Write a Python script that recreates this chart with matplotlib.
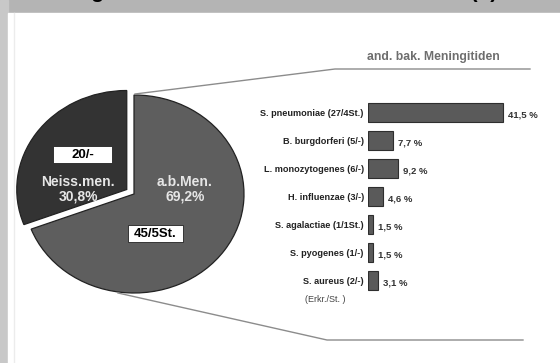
import matplotlib
matplotlib.use('Agg')
import matplotlib.pyplot as plt
from matplotlib.patches import Rectangle

plt.rcParams['font.family'] = ['Liberation Sans', 'DejaVu Sans']

W, H = 560, 363

# pie: all bacterial meningitis cases
pie_values = [45, 20]
pie_names = ['a.b.Men.', 'Neiss.men.']
pie_pct = ['69,2%', '30,8%']
pie_counts = ['45/5St.', '20/-']

# bars: other bacterial meningitis
bar_labels = ['S. pneumoniae (27/4St.)', 'B. burgdorferi (5/-)', 'L. monozytogenes (6/-)',
              'H. influenzae (3/-)', 'S. agalactiae (1/1St.)', 'S. pyogenes (1/-)',
              'S. aureus (2/-)']
bar_values = [41.5, 7.7, 9.2, 4.6, 1.5, 1.5, 3.1]
bar_texts = ['41,5 %', '7,7 %', '9,2 %', '4,6 %', '1,5 %', '1,5 %', '3,1 %']


def box(x0, y0, x1, y1):
    # pixel box (image coords, y down) -> figure fraction rect
    return [x0 / W, 1 - y1 / H, (x1 - x0) / W, (y1 - y0) / H]


fig = plt.figure(figsize=(5.6, 3.63), dpi=100)
fig.patch.set_facecolor('#b4b4b4')

# background frame
bg = fig.add_axes([0, 0, 1, 1])
bg.set_xlim(0, W)
bg.set_ylim(H, 0)
bg.axis('off')
bg.add_patch(Rectangle((0, 0), 8, H, color='#c8c8c8'))
bg.add_patch(Rectangle((8, 13), W - 8, H - 13, color='white'))
bg.plot([14, 14], [13, H], color='#ececec', lw=1)

# title, cut off at the top (only descenders visible, as in the slide)
fig.text(497 / W, 1 + 1.5 / H, 'Meningitiden bei Kindern und Erwachsenen (n)',
         ha='right', va='baseline', fontsize=15, fontweight='bold', color='black')

# pie
pax = fig.add_axes(box(24, 95, 244, 293))
wedges, _ = pax.pie(pie_values, startangle=90, counterclock=False,
                    colors=['#5e5e5e', '#333333'], explode=[0, 0.08],
                    wedgeprops=dict(edgecolor='#222222', linewidth=0.9))
pax.set_xlim(-1, 1)
pax.set_ylim(-1, 1)
pax.set_aspect('auto')
pax.axis('off')
for w in wedges:
    w.set_clip_on(False)

# bars
bax = fig.add_axes(box(368, 98.5, 518, 294.5))
ypos = list(range(len(bar_values)))
bax.barh(ypos, bar_values, height=0.68, color='#5a5a5a', edgecolor='#2e2e2e', linewidth=0.8)
bax.set_xlim(0, 150 / 3.253)
bax.set_ylim(len(bar_values) - 0.5, -0.5)
bax.set_yticks(ypos)
bax.set_yticklabels(bar_labels, fontsize=6.6, fontweight='bold', color='#222222')
bax.tick_params(axis='y', length=0, pad=3)
bax.set_xticks([])
for s in bax.spines.values():
    s.set_visible(False)
bax.patch.set_alpha(0)
for y, v, t in zip(ypos, bar_values, bar_texts):
    bax.text(v + 1.6, y + 0.1, t, va='center', ha='left', fontsize=6.8,
             fontweight='bold', color='#333333')

# overlay: connector lines and labels
ov = fig.add_axes([0, 0, 1, 1])
ov.set_xlim(0, W)
ov.set_ylim(H, 0)
ov.axis('off')
ov.patch.set_alpha(0)
ov.plot([135, 335, 530], [94, 69, 69], color='#8c8c8c', lw=1)
ov.plot([118, 327, 523], [293, 340, 340], color='#8c8c8c', lw=1)
ov.text(433, 57, 'and. bak. Meningitiden', ha='center', va='center', fontsize=8.8,
        fontweight='bold', color='#6e6e6e')
ov.text(325, 299, '(Erkr./St. )', ha='center', va='center', fontsize=6.5, color='#444444')

ov.text(185, 189.5, pie_names[0] + '\n' + pie_pct[0], ha='center', va='center',
        fontsize=10, fontweight='bold', color='#e6e6e6', linespacing=1.0)
ov.text(78, 189.5, pie_names[1] + '\n' + pie_pct[1], ha='center', va='center',
        fontsize=10, fontweight='bold', color='#e6e6e6', linespacing=1.0)

ov.add_patch(Rectangle((53, 146), 59, 17, facecolor='white', edgecolor='#222222', lw=0.6))
ov.text(82.5, 155, pie_counts[1], ha='center', va='center', fontsize=9.5,
        fontweight='bold', color='black')
ov.add_patch(Rectangle((128, 225), 55, 17, facecolor='white', edgecolor='#222222', lw=0.6))
ov.text(155.5, 234, pie_counts[0], ha='center', va='center', fontsize=9.5,
        fontweight='bold', color='black')

fig.savefig('out.png', dpi=100, facecolor=fig.get_facecolor())
